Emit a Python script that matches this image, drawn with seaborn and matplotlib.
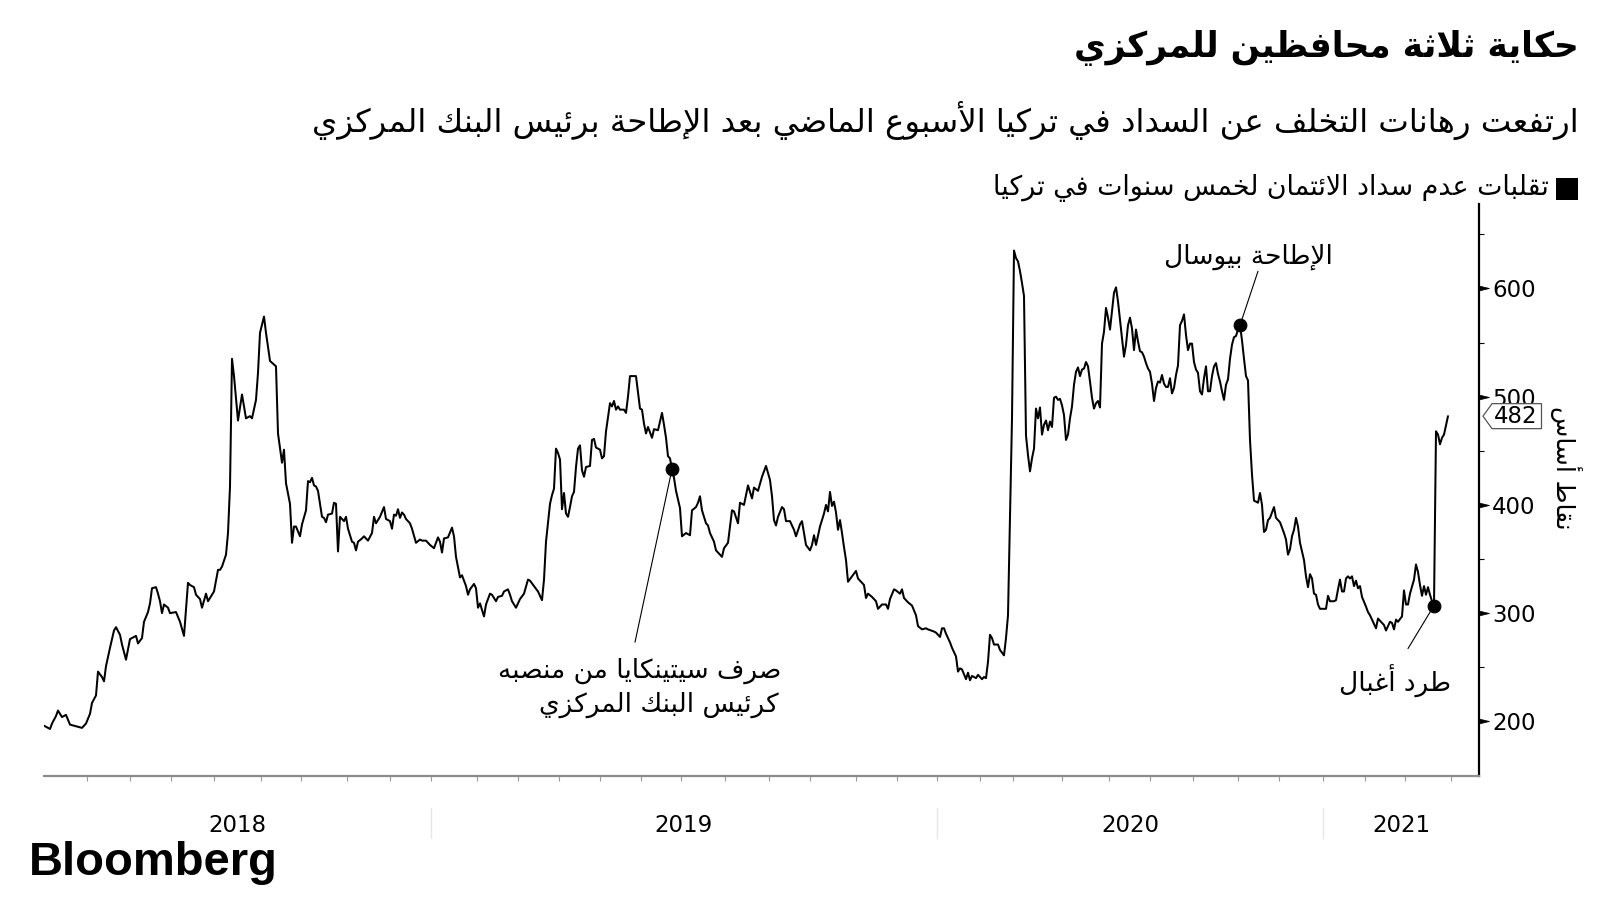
import matplotlib
matplotlib.use("Agg")
import matplotlib.pyplot as plt
import matplotlib.transforms as mtransforms
from matplotlib.patches import Rectangle
from matplotlib.path import Path
import pandas as pd
import seaborn as sns

# ---------------- data (trading-day index, basis points) ----------------
cds_2018 = [(0,196),(3,193),(4,198),(6,205),(7,210),(9,204),(11,206),(13,197),(15,196),(17,195),
            (19,194),(21,198),(23,207),(24,217),(26,224),(27,246),(29,241),(30,237),(31,251),(33,268),
            (35,284),(36,287),(38,280),(39,271),(41,257),(43,276),(46,279),(47,272),(49,277),(50,292),
            (52,301),(53,309),(54,323),(56,324),(57,318),(58,311),(59,300),(60,308),(62,305),(63,300),
            (66,301),(68,292),(70,279),(71,303),(72,328),(73,326),(75,324),(76,317),(78,313),(79,305),
            (81,318),(82,311),(85,320),(87,340),(88,340),(89,343),(91,354),(92,374),(93,417),(94,535),
            (95,519),(97,478),(99,502),(101,480),(103,482),(104,480),(106,497),(107,522),(108,559),(110,574),
            (111,559),(113,533),(116,528),(117,466),(119,439),(120,451),(121,420),(123,401),(124,365),(125,380),
            (126,380),(128,371),(129,382),(131,395),(132,422),(133,421),(134,425),(135,418),(136,417),(137,413),
            (139,389),(140,388),(141,384),(142,391),(144,392),(145,402),(146,401),(147,357),(148,389),(150,385),
            (151,389),(152,378),(154,366),(155,365),(156,358),(157,366),(159,369),(160,371),(162,367),(164,374),
            (165,389),(166,383),(168,389),(170,398),(171,387),(173,385),(174,378),(175,391),(176,390),(177,396),
            (178,388),(179,393),(180,391),(181,387),(183,383),(184,378),(186,365),(188,368),(189,367),(191,367),
            (193,363)]
cds_2019 = [(195,360),(197,370),(198,366),(199,356),(200,369),(202,370),(204,379),(205,371),(206,352),(208,333),
            (209,335),(211,325),(212,317),(213,322),(215,327),(216,323),(217,305),(218,309),(220,297),(221,308),
            (223,318),(224,317),(226,311),(227,315),(229,316),(230,320),(232,322),(233,317),(234,311),(236,305),
            (238,313),(240,318),(242,331),(243,330),(245,325),(247,320),(249,312),(250,331),(251,366),(253,401),
            (254,409),(255,415),(256,452),(257,448),(258,442),(259,396),(260,411),(261,392),(262,389),(263,398),
            (264,408),(265,412),(266,435),(267,452),(268,455),(269,432),(270,426),(271,435),(273,436),(274,460),
            (275,461),(276,453),(278,451),(279,443),(280,445),(281,468),(283,494),(284,491),(285,496),(286,488),
            (287,491),(288,488),(290,488),(291,485),(292,500),(293,519),(295,519),(296,519),(298,489),(299,488),
            (300,475),(301,466),(302,472),(303,467),(304,462),(305,470),(307,469),(309,485),(310,474),(311,462),
            (312,445),(313,443),(314,433),(315,425),(316,413),(318,397),(319,371),(321,374),(323,372),(324,395),
            (326,398),(327,402),(328,408),(329,395),(331,383),(332,381),(333,374),(335,366),(336,358),(339,352),
            (340,360),(342,365),(344,395),(345,394),(347,383),(348,402),(350,400),(352,418),(354,406),(355,416),
            (357,413),(359,426),(361,436),(363,423),(364,408),(365,386),(366,381),(367,389),(369,398),(370,396),
            (371,385),(373,385),(375,377),(376,371),(378,382),(379,385),(380,374),(381,363),(383,358),(384,363),
            (385,372),(386,363),(388,380),(389,386),(390,392),(391,400),(392,394),(393,412),(394,399),(395,403),
            (396,393),(397,377),(398,386),(399,374),(400,361),(401,349),(402,329),(404,334),(406,339),(407,332),
            (409,328),(410,326),(411,314),(412,318),(414,315),(416,311),(417,304),(419,308),(421,308),(422,304),
            (423,313),(425,322),(426,321),(428,318),(429,322),(430,314),(432,310),(434,307),(436,298),(437,288),
            (439,285),(441,286),(442,285),(445,283),(446,282)]
cds_2020 = [(448,278),(449,286),(450,286),(451,281),(453,273),(454,268),(456,260),(457,246),(458,249),(459,248),
            (461,239),(462,245),(463,238),(464,242),(466,240),(467,243),(469,239),(470,241),(471,240),(472,255),
            (473,280),(474,277),(475,271),(477,271),(478,266),(480,261),(481,277),(482,298),(483,390),(484,480),
            (485,635),(486,628),(487,625),(488,616),(489,605),(490,593),(491,464),(492,446),(493,431),(494,443),
            (495,452),(496,489),(497,480),(498,490),(499,465),(500,474),(501,478),(502,469),(503,477),(504,472),
            (505,499),(506,500),(507,497),(508,498),(509,492),(510,483),(511,460),(512,465),(513,480),(514,491),
            (515,511),(516,523),(517,527),(518,519),(519,525),(520,526),(521,532),(522,528),(523,514),(524,499),
            (525,489),(526,494),(527,496),(528,490),(529,549),(530,560),(531,582),(532,573),(533,562),(534,579),
            (535,596),(536,601),(537,588),(538,571),(539,554),(540,537),(541,548),(542,566),(543,573),(544,563),
            (545,543),(546,562),(547,551),(548,542),(549,541),(550,537),(551,531),(552,526),(553,523),(554,512),
            (555,496),(556,508),(557,514),(558,513),(559,520),(560,512),(561,509),(562,509),(563,517),(564,503),
            (565,508),(566,520),(567,529),(568,566),(569,570),(570,576),(571,557),(572,543),(573,549),(574,549),
            (575,532),(576,525),(577,522),(578,505),(579,502),(580,517),(581,528),(582,505),(583,505),(584,519),
            (585,528),(586,531),(587,521),(588,514),(589,505),(590,497),(591,511),(592,516),(593,535),(594,548),
            (595,555),(596,556),(597,562),(598,566),(599,552),(600,535),(601,519),(602,515),(603,460),(604,428),
            (605,404),(606,403),(607,402),(608,411),(609,400),(610,375),(611,377),(612,386),(613,388),(615,398),
            (616,388),(618,384),(620,374),(621,368),(622,354),(623,359),(624,371),(625,377),(626,388),(627,380),
            (628,365),(630,349),(631,334),(632,324),(633,336),(634,332),(635,318),(636,317),(637,308),(638,304)]
cds_2021 = [(640,304),(641,304),(642,316),(643,311),(645,311),(646,312),(647,322),(648,331),(649,320),(650,320),
            (651,332),(652,334),(653,332),(654,334),(655,325),(656,330),(657,323),(658,325),(659,315),(661,306),
            (662,301),(663,298),(664,294),(666,286),(667,295),(669,291),(670,289),(671,284),(673,292),(674,291),
            (675,285),(676,294),(677,292),(679,297),(680,321),(681,308),(682,308),(683,318),(685,331),(686,345),
            (687,338),(688,326),(689,316),(690,325),(691,317),(692,324),(693,317),(694,311),(695,307),(696,468),
            (697,465),(698,456),(699,462),(700,465),(702,482)]

years = ["2018", "2019", "2020", "2021"]
year_edges = [0, 193.3, 446.4, 639.7, 717.3]
month_ticks = [21.4, 42.8, 63.7, 85.1, 108.6, 128.5, 151.5, 172.9, 193.3, 216.3, 237.2, 257.6, 278.0,
               298.4, 318.3, 340.7, 362.7, 383.1, 406.0, 426.5, 446.4, 467.8, 484.6, 509.1, 532.6,
               553.0, 574.4, 596.9, 617.3, 639.7, 660.7, 680.6, 703.5]
y_ticks = [200, 300, 400, 500, 600]
y_minor = [250, 350, 450, 550, 650]
events = [("cetinkaya", 314), ("uysal", 598), ("agbal", 695)]

title = "حكاية ثلاثة محافظين للمركزي"
subtitle = "ارتفعت رهانات التخلف عن السداد في تركيا الأسبوع الماضي بعد الإطاحة برئيس البنك المركزي"
legend_label = "تقلبات عدم سداد الائتمان لخمس سنوات في تركيا"
y_label = "نقاط أساس"
note_cetinkaya = ["صرف سيتينكايا من منصبه", "كرئيس البنك المركزي"]
note_uysal = "الإطاحة بيوسال"
note_agbal = "طرد أغبال"

# ---------------- Arabic shaping (presentation forms + RTL order) ----------------
DUAL = {'ئ': 0xFE89, 'ب': 0xFE8F, 'ت': 0xFE95, 'ث': 0xFE99, 'ج': 0xFE9D, 'ح': 0xFEA1, 'خ': 0xFEA5,
        'س': 0xFEB1, 'ش': 0xFEB5, 'ص': 0xFEB9, 'ض': 0xFEBD, 'ط': 0xFEC1, 'ظ': 0xFEC5, 'ع': 0xFEC9,
        'غ': 0xFECD, 'ف': 0xFED1, 'ق': 0xFED5, 'ك': 0xFED9, 'ل': 0xFEDD, 'م': 0xFEE1, 'ن': 0xFEE5,
        'ه': 0xFEE9, 'ي': 0xFEF1}
RIGHT = {'آ': 0xFE81, 'أ': 0xFE83, 'ؤ': 0xFE85, 'إ': 0xFE87, 'ا': 0xFE8D, 'ة': 0xFE93, 'د': 0xFEA9,
         'ذ': 0xFEAB, 'ر': 0xFEAD, 'ز': 0xFEAF, 'و': 0xFEED, 'ى': 0xFEEF}
LAMALEF = {'آ': 0xFEF5, 'أ': 0xFEF7, 'إ': 0xFEF9, 'ا': 0xFEFB}


def ar(text):
    toks, i = [], 0
    while i < len(text):
        c = text[i]
        if c == 'ل' and i + 1 < len(text) and text[i + 1] in LAMALEF:
            toks.append(('R', LAMALEF[text[i + 1]]))
            i += 2
            continue
        if c in DUAL:
            toks.append(('D', DUAL[c]))
        elif c in RIGHT:
            toks.append(('R', RIGHT[c]))
        else:
            toks.append(('N', c))
        i += 1
    out = []
    for k, (typ, val) in enumerate(toks):
        if typ == 'N':
            out.append(val)
            continue
        prev = k > 0 and toks[k - 1][0] == 'D'
        nxt = typ == 'D' and k + 1 < len(toks) and toks[k + 1][0] in 'DR'
        if typ == 'D':
            form = 3 if (prev and nxt) else 1 if prev else 2 if nxt else 0
        else:
            form = 1 if prev else 0
        out.append(chr(val + form))
    return ''.join(reversed(out))


def tag_box(x0, y0, width, height, mutation_size):
    xl, xr = x0 - 2, x0 + width + 4
    yb, yt = y0 - 1, y0 + height + 1
    tip = 0.36 * (yt - yb)
    ym = (yb + yt) / 2
    return Path([(xl - tip, ym), (xl, yt), (xr, yt), (xr, yb), (xl, yb), (xl - tip, ym)],
                [Path.MOVETO] + [Path.LINETO] * 4 + [Path.CLOSEPOLY])


# ---------------- figure ----------------
df = pd.DataFrame(cds_2018 + cds_2019 + cds_2020 + cds_2021, columns=["day", "bp"])

sns.set_style("white")
plt.rcParams["font.family"] = ["DejaVu Sans"]
W, H = 1600, 900
fig = plt.figure(figsize=(16, 9), dpi=100, facecolor="white")


def fx(px):
    return px / W


def fy(py):
    return 1 - py / H


AX_L, AX_R, AX_T, AX_B = 44, 1478.6, 204, 775.5
ax = fig.add_axes([fx(AX_L), fy(AX_B), (AX_R - AX_L) / W, (AX_B - AX_T) / H])
sns.lineplot(data=df, x="day", y="bp", estimator=None, sort=False, color="black",
             linewidth=1.45, ax=ax, legend=False)

# event dots and leader lines
ev = df.set_index("day").loc[[d for _, d in events], "bp"]
sns.scatterplot(x=ev.index, y=ev.values, s=85, color="black", ax=ax, zorder=5,
                legend=False, edgecolor="black")
leader = {"cetinkaya": (-37, -173), "uysal": (18, 54), "agbal": (-26, -43)}
for name, d in events:
    ax.annotate("", xy=(d, ev.loc[d]), xytext=leader[name], textcoords="offset pixels",
                arrowprops=dict(arrowstyle="-", color="black", lw=0.8, shrinkA=0, shrinkB=0))

ax.set_xlim(year_edges[0], year_edges[-1])
ax.set_ylim(150, 678)
ax.set_xlabel("")
ax.set_ylabel("")
for s in ["left", "top"]:
    ax.spines[s].set_visible(False)
ax.spines["right"].set_color("black")
ax.spines["right"].set_linewidth(1.6)
ax.spines["bottom"].set_color("#8c8c8c")
ax.spines["bottom"].set_linewidth(1.6)

ax.yaxis.tick_right()
ax.set_yticks(y_ticks)
ax.set_yticks(y_minor, minor=True)
ax.set_yticklabels([str(v) for v in y_ticks])
ax.tick_params(axis="y", which="major", right=True, left=False, length=7.2, width=1,
               pad=2.5, labelsize=16.5, colors="black")
ax.tick_params(axis="y", which="minor", right=True, left=False, length=3.6, width=0.8,
               color="black")
ax.set_xticks(month_ticks)
ax.set_xticklabels([])
ax.tick_params(axis="x", which="major", bottom=True, length=3.5, width=0.8, color="#9a9a9a")
caret = [(0, -0.24), (1, 0), (0, 0.24), (0, -0.24)]
for t in ax.yaxis.get_major_ticks():
    t.tick2line.set_marker(caret)
    t.tick2line.set_markersize(14.4)
    t.tick2line.set_markerfacecolor("black")
    t.tick2line.set_markeredgewidth(0.5)

# year labels and separators
axh = AX_B - AX_T
trans_x = mtransforms.blended_transform_factory(ax.transData, ax.transAxes)
for i, yr in enumerate(years):
    c = (year_edges[i] + year_edges[i + 1]) / 2
    ax.text(c, -(832 - AX_B) / axh, yr, transform=trans_x, ha="center", va="baseline",
            fontsize=16.5, color="black")
for e in year_edges[1:-1]:
    ax.axvline(e, ymin=-(838 - AX_B) / axh, ymax=-(808 - AX_B) / axh, color="#e6e6e6",
               lw=1, clip_on=False)

# last value tag
last = df["bp"].iloc[-1]
trans_y = mtransforms.blended_transform_factory(ax.transAxes, ax.transData)
ax.text((1494 - AX_L) / (AX_R - AX_L), last, f"{last:.0f}", transform=trans_y, ha="left",
        va="center", fontsize=16.5, color="black", clip_on=False, zorder=6,
        bbox=dict(boxstyle=tag_box, fc="white", ec="#555555", lw=0.9))

# ---------------- texts ----------------
renderer = fig.canvas.get_renderer()


def fit(t, target, rotated=False):
    bb = t.get_window_extent(renderer)
    cur = bb.height if rotated else bb.width
    t.set_fontsize(t.get_fontsize() * target / cur)


t_title = fig.text(fx(1578.6), fy(57), ar(title), ha="right", va="baseline",
                   fontsize=28, fontweight="bold", color="black")
fit(t_title, 507)
t_sub = fig.text(fx(1578.6), fy(132), ar(subtitle), ha="right", va="baseline",
                 fontsize=20, color="black")
fit(t_sub, 1267)
t_leg = fig.text(fx(1549), fy(195), ar(legend_label), ha="right", va="baseline",
                 fontsize=18, color="black")
fit(t_leg, 556)
fig.add_artist(Rectangle((fx(1556), fy(200)), 22 / W, 22 / H, transform=fig.transFigure,
                         facecolor="black", edgecolor="none"))

t_c1 = fig.text(fx(781.7), fy(677.3), ar(note_cetinkaya[0]), ha="right", va="baseline",
                fontsize=18, color="black")
fit(t_c1, 283)
note_size = t_c1.get_fontsize()
fig.text(fx(778.3), fy(711.7), ar(note_cetinkaya[1]), ha="right", va="baseline",
         fontsize=note_size, color="black")
fig.text(fx(1248), fy(263.3), ar(note_uysal), ha="center", va="baseline",
         fontsize=note_size, color="black")
fig.text(fx(1395), fy(691.7), ar(note_agbal), ha="center", va="baseline",
         fontsize=note_size, color="black")

t_yl = fig.text(fx(1566), fy(468), ar(y_label), ha="center", va="center", rotation=270,
                fontsize=18, color="black")
fit(t_yl, 124, rotated=True)

t_bb = fig.text(fx(28.6), fy(875), "Bloomberg", ha="left", va="baseline",
                fontsize=34, fontweight="bold", family=["Liberation Sans", "DejaVu Sans"],
                color="black")
fit(t_bb, 249)

fig.savefig("out.png", dpi=100, facecolor="white")
